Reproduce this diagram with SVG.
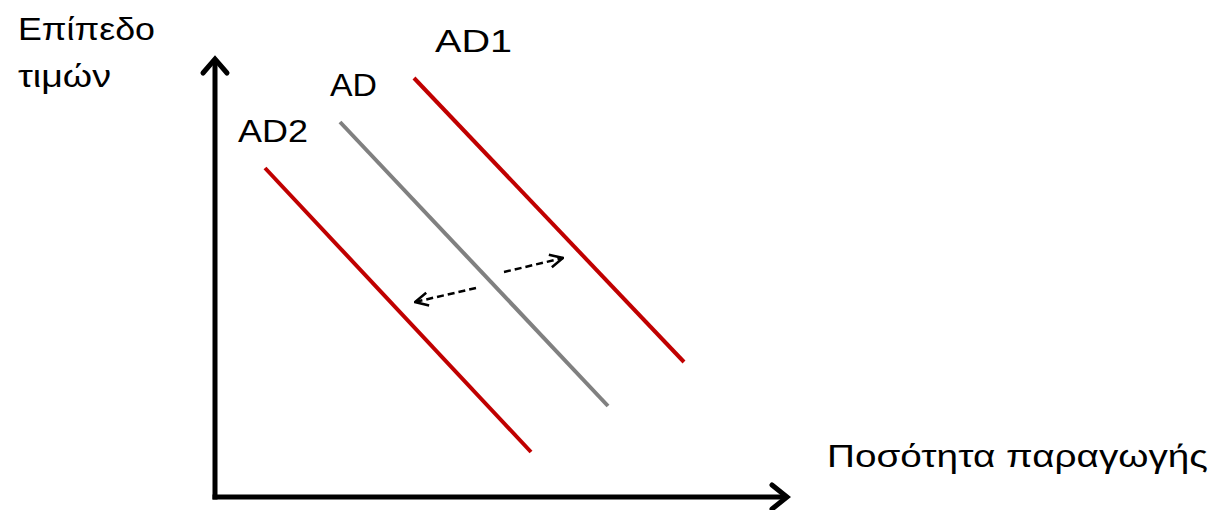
<svg xmlns="http://www.w3.org/2000/svg" width="1224" height="510" viewBox="0 0 1224 510">
  <style>
    .lbl { font-family: "Liberation Sans", "Open Sans", sans-serif; font-size: 32px; fill: #000; }
    .axis { stroke: #000; stroke-width: 5; fill: none; stroke-linecap: square; }
    .head { stroke: #000; stroke-width: 5; fill: none; stroke-linecap: round; stroke-linejoin: miter; }
    .curve-red { stroke: #c00000; stroke-width: 4; fill: none; }
    .curve-grey { stroke: #808080; stroke-width: 4; fill: none; }
    .shift { stroke: #000; stroke-width: 2.5; fill: none; stroke-dasharray: 7 4; }
  </style>
  <defs>
    <marker id="open" viewBox="0 0 16 16" refX="15" refY="8" markerWidth="16" markerHeight="16" markerUnits="userSpaceOnUse" orient="auto">
      <path d="M2,1.5 L15,8 L2,14.5" fill="none" stroke="#000" stroke-width="2.5"/>
    </marker>
  </defs>

  <!-- axes -->
  <g id="axes">
    <line class="axis" x1="215" y1="62" x2="215" y2="497"/>
    <line class="axis" x1="215" y1="497" x2="783" y2="497"/>
    <path class="head" d="M203,73 L215,59 L227,73"/>
    <path class="head" d="M772,485 L787,497 L772,509"/>
  </g>

  <!-- demand curves -->
  <g id="ad2">
    <line class="curve-red" x1="265" y1="168" x2="531" y2="452"/>
    <text class="lbl" x="238" y="142" textLength="70" lengthAdjust="spacingAndGlyphs">AD2</text>
  </g>
  <g id="ad">
    <line class="curve-grey" x1="340" y1="122" x2="608" y2="406"/>
    <text class="lbl" x="330" y="96" textLength="47" lengthAdjust="spacingAndGlyphs">AD</text>
  </g>
  <g id="ad1">
    <line class="curve-red" x1="414" y1="78" x2="684" y2="362"/>
    <text class="lbl" x="435" y="52" textLength="77" lengthAdjust="spacingAndGlyphs">AD1</text>
  </g>

  <!-- shift arrows -->
  <g id="connectors">
    <line class="shift" x1="504" y1="272" x2="563" y2="258" marker-end="url(#open)"/>
    <line class="shift" x1="476" y1="288" x2="415" y2="302" marker-end="url(#open)"/>
  </g>

  <!-- axis titles -->
  <g id="y-title">
    <text class="lbl" x="18" y="40" textLength="137" lengthAdjust="spacingAndGlyphs">Επίπεδο</text>
    <text class="lbl" x="18" y="87" textLength="93" lengthAdjust="spacingAndGlyphs">τιμών</text>
  </g>
  <g id="x-title">
    <text class="lbl" x="827" y="467" textLength="381" lengthAdjust="spacingAndGlyphs">Ποσότητα παραγωγής</text>
  </g>
</svg>
